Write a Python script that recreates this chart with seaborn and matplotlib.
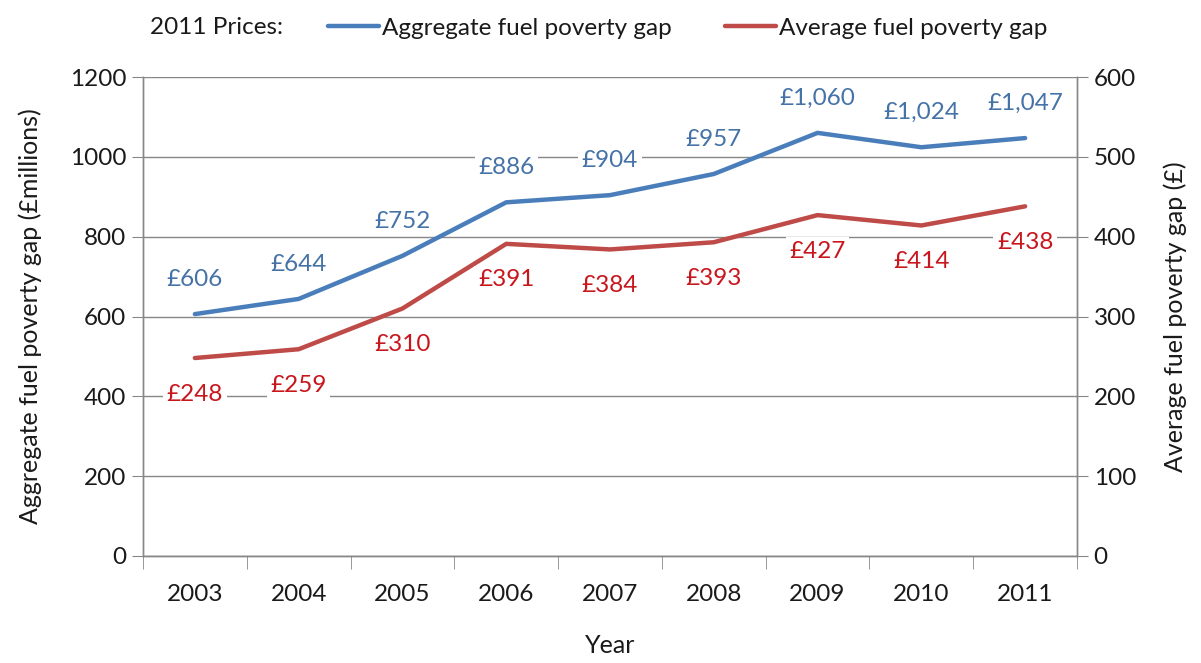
import matplotlib
matplotlib.use("Agg")
import matplotlib.pyplot as plt
import seaborn as sns
import pandas as pd
import numpy as np
from matplotlib.ticker import FixedLocator

years = ["2003", "2004", "2005", "2006", "2007", "2008", "2009", "2010", "2011"]
aggregate = [606, 644, 752, 886, 904, 957, 1060, 1024, 1047]
average = [248, 259, 310, 391, 384, 393, 427, 414, 438]
left_ticks = [0, 200, 400, 600, 800, 1000, 1200]
right_ticks = [0, 100, 200, 300, 400, 500, 600]

sns.set_style("white")
plt.rcParams["font.family"] = ["Lato", "DejaVu Sans"]

BLUE = "#4A7EBB"
RED = "#BE4B48"
BLUE_TXT = "#4572A7"
RED_TXT = "#C8161D"
GRID = "#878787"
FS = 17.5
FL = 18

df = pd.DataFrame({"Year": years, "Aggregate": aggregate, "Average": average})

fig = plt.figure(figsize=(12.01, 6.63), dpi=100)
ax = fig.add_axes([143 / 1201, 1 - 556 / 663, (1077 - 143) / 1201, (556 - 77) / 663])
ax2 = ax.twinx()

sns.lineplot(data=df, x="Year", y="Aggregate", ax=ax, color=BLUE, linewidth=3.2,
             label="Aggregate fuel poverty gap", legend=False, zorder=3)
sns.lineplot(data=df, x="Year", y="Average", ax=ax2, color=RED, linewidth=3.2,
             label="Average fuel poverty gap", legend=False, zorder=3)

ax.set_xlim(-0.5, len(years) - 0.5)
ax.set_ylim(0, 1200)
ax2.set_ylim(0, 600)
ax.set_yticks(left_ticks)
ax2.set_yticks(right_ticks)

ax.grid(axis="y", color=GRID, linewidth=1.0)
ax.grid(axis="x", visible=False)
ax2.grid(False)
ax.set_axisbelow(True)

for a in (ax, ax2):
    for s in a.spines.values():
        s.set_visible(False)
    for s in ("left", "right", "bottom"):
        a.spines[s].set_visible(True)
        a.spines[s].set_color(GRID)
        a.spines[s].set_linewidth(1.0)

ax.tick_params(axis="y", which="major", direction="out", length=8, color=GRID,
               labelsize=FS, labelcolor="#1a1a1a", pad=4, left=True)
ax2.tick_params(axis="y", which="major", direction="out", length=8, color=GRID,
                labelsize=FS, labelcolor="#1a1a1a", pad=4, right=True)
ax.xaxis.set_minor_locator(FixedLocator(np.arange(-0.5, len(years), 1.0)))
ax.tick_params(axis="x", which="major", length=0, labelsize=FS, labelcolor="#1a1a1a", pad=20)
ax.tick_params(axis="x", which="minor", direction="out", length=9, color=GRID, bottom=True)

ax.set_xlabel("Year", fontsize=FL, color="#1a1a1a", labelpad=21)
ax.set_ylabel("Aggregate fuel poverty gap (£millions)", fontsize=FL, color="#1a1a1a", labelpad=20)
ax2.set_ylabel("Average fuel poverty gap (£)", fontsize=FL, color="#1a1a1a", labelpad=20)

bbox = dict(boxstyle="square,pad=0.15", fc="white", ec="none")
for y, v in zip(years, aggregate):
    ax.annotate(f"£{v:,}", xy=(y, v), xytext=(0, 25), textcoords="offset points",
                ha="center", va="center", color=BLUE_TXT, fontsize=FS, bbox=bbox, zorder=4)
for y, v in zip(years, average):
    ax2.annotate(f"£{v:,}", xy=(y, v), xytext=(0, -26), textcoords="offset points",
                 ha="center", va="center", color=RED_TXT, fontsize=FS, bbox=bbox, zorder=4)

handles = [ax.get_lines()[0], ax2.get_lines()[0]]
fig.legend(handles, [h.get_label() for h in handles], loc="center left",
           bbox_to_anchor=(328 / 1201, 1 - 28 / 663), ncol=2, frameon=False,
           fontsize=FS, handlelength=2.1, handletextpad=0.12, columnspacing=2.2,
           borderaxespad=0, borderpad=0, labelcolor="#1a1a1a")
fig.text(150 / 1201, 1 - 28 / 663, "2011 Prices:", ha="left", va="center",
         fontsize=FS, color="#1a1a1a")

fig.savefig("out.png", dpi=100, facecolor="white")
